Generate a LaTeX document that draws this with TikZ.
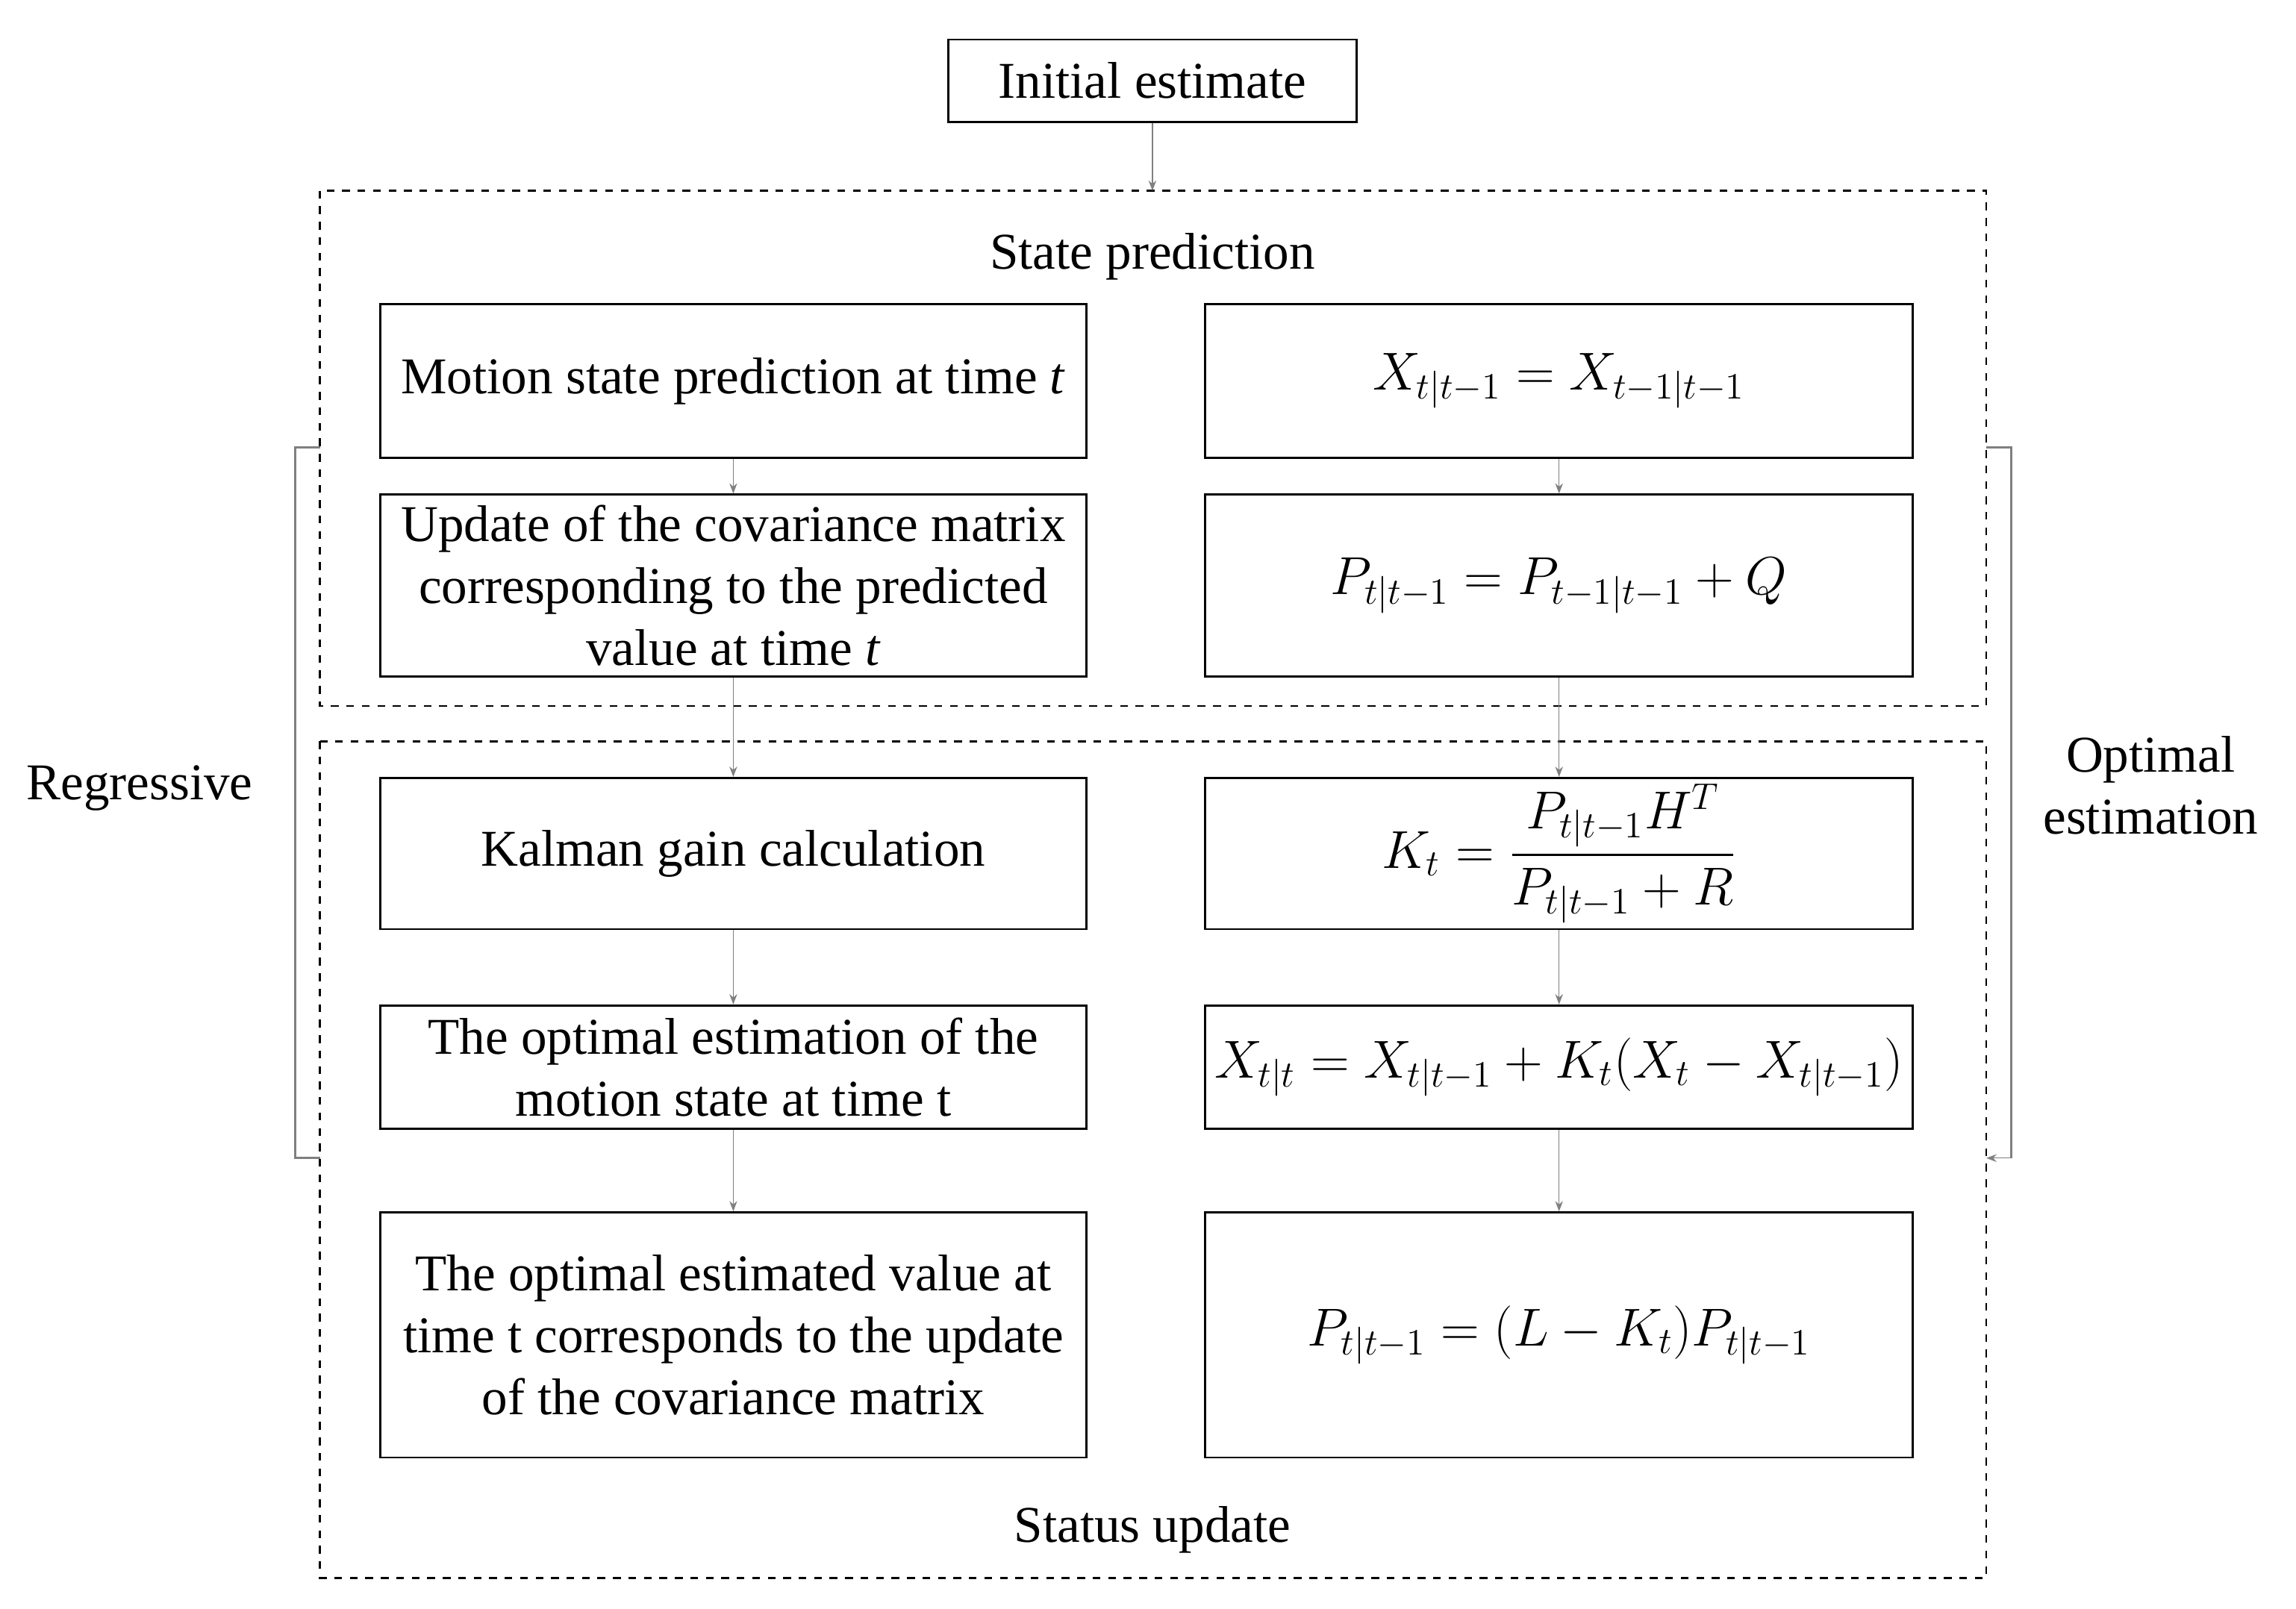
\documentclass[tikz,border=0pt]{standalone}
\usepackage{amsmath}
\usepackage{fontspec}
\setmainfont{Liberation Serif}
\usetikzlibrary{arrows.meta}
\begin{document}
\begin{tikzpicture}[x=0.02cm,y=-0.02cm,
  box/.style={draw,thick,inner sep=0pt,align=center,font=\fontsize{20}{24}\selectfont},
  lbl/.style={align=center,font=\fontsize{20}{24}\selectfont},
  dbox/.style={draw,thick,dashed},
  arr/.style={draw=gray,-{Stealth[length=4pt,width=3pt]}},
  brk/.style={draw=gray,thick}]
\useasboundingbox (0,0) rectangle (1564,1096);
\newcommand{\bx}[6]{\node[box,minimum width=#4*0.02cm,minimum height=#5*0.02cm] (#1) at (#2,#3) {#6};}
\bx{init}{785}{55}{278}{56}{Initial estimate}
\draw[dbox] (218,130) rectangle (1353,481);
\coordinate (top1) at (785,130);
\node[lbl] (sp) at (785,175) {State prediction};
\draw[dbox] (218,505) rectangle (1353,1075);
\node[lbl] (su) at (785,1042) {Status update};
\bx{l1}{499.5}{259.5}{481}{105}{Motion state prediction at time \textit{t}}
\bx{r1}{1062}{259.5}{482}{105}{$X_{t|t-1}=X_{t-1|t-1}$}
\bx{l2}{499.5}{399}{481}{124}{Update of the covariance matrix\\corresponding to the predicted\\value at time \textit{t}}
\bx{r2}{1062}{399}{482}{124}{$P_{t|t-1}=P_{t-1|t-1}+Q$}
\bx{l3}{499.5}{581.5}{481}{103}{Kalman gain calculation}
\bx{r3}{1062}{581.5}{482}{103}{$K_t=\dfrac{P_{t|t-1}H^T}{P_{t|t-1}+R}$}
\bx{l4}{499.5}{727}{481}{84}{The optimal estimation of the\\motion state at time t}
\bx{r4}{1062}{727}{482}{84}{$X_{t|t}=X_{t|t-1}+K_t(X_t-X_{t|t-1})$}
\bx{l5}{499.5}{909.5}{481}{167}{The optimal estimated value at\\time t corresponds to the update\\of the covariance matrix}
\bx{r5}{1062}{909.5}{482}{167}{$P_{t|t-1}=(L-K_t)P_{t|t-1}$}
\draw[arr] (init) -- (top1);
\foreach \a/\b in {l1/l2,l2/l3,l3/l4,l4/l5,r1/r2,r2/r3,r3/r4,r4/r5}
  \draw[arr] (\a) -- (\b);
\draw[brk] (218,305) -- (201,305) -- (201,789) -- (218,789);
\coordinate (rb) at (1353,789);
\draw[brk] (1353,305) -- (1370,305) -- (1370,789);
\draw[arr] (1370,789) -- (rb);
\node[lbl] (reg) at (95,537) {Regressive};
\node[lbl] (opt) at (1465,535) {Optimal\\estimation};
\end{tikzpicture}
\end{document}
